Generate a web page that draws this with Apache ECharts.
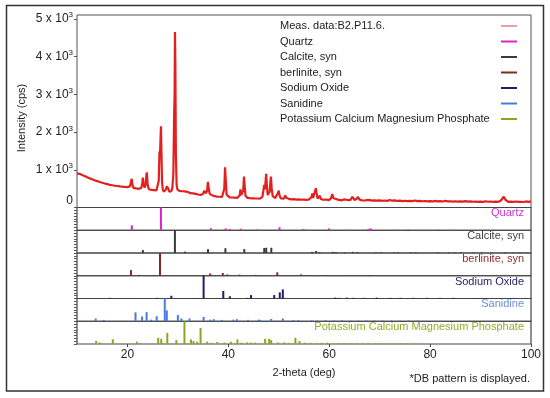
<!DOCTYPE html>
<html>
<head>
<meta charset="utf-8">
<script src="https://cdn.jsdelivr.net/npm/echarts@6.0.0/dist/echarts.min.js"></script>
<style>
html,body{margin:0;padding:0;background:#fff;}
#c{width:550px;height:398px;}
</style>
</head>
<body>
<div id="c"></div>
<script>
// ---------- DATA ----------
const measName = 'Meas. data:B2.P11.6.';
const phaseNames = ['Quartz', 'Calcite, syn', 'berlinite, syn', 'Sodium Oxide', 'Sanidine', 'Potassium Calcium Magnesium Phosphate'];
const xTicks = [20, 40, 60, 80, 100];
const yTicks = [0, 1000, 2000, 3000, 4000, 5000];
const yMax = 5100;

// measured pattern [2-theta, cps]
const measData = [
[10.0,905],[10.25,880],[10.5,892],[10.75,852],[11.0,862],[11.25,822],[11.5,832],[11.75,792],[12.0,802],[12.25,762],[12.5,772],[12.75,735],
[13.0,746],[13.25,710],[13.5,720],[13.75,690],[14.0,700],[14.25,665],[14.5,676],[14.75,645],[15.0,656],[15.25,625],[15.5,636],[15.75,606],
[16.0,620],[16.25,590],[16.5,601],[16.75,575],[17.0,590],[17.25,565],[17.5,576],[17.75,555],[18.0,570],[18.25,545],[18.5,560],[18.75,540],
[19.0,551],[19.25,530],[19.5,545],[19.75,525],[20.0,540],[20.25,520],[20.5,560],[20.7,680],[20.85,760],[21.0,600],[21.2,520],[21.5,526],
[21.75,505],[22.0,515],[22.25,495],[22.5,510],[22.75,520],[22.95,650],[23.05,790],[23.2,600],[23.4,530],[23.6,600],[23.75,850],[23.85,930],
[24.0,620],[24.2,490],[24.5,480],[24.75,465],[25.0,478],[25.25,460],[25.5,470],[25.75,455],[26.0,500],[26.2,700],[26.35,1480],[26.45,1350],
[26.55,1800],[26.65,2150],[26.75,1400],[26.85,700],[27.0,480],[27.2,420],[27.4,440],[27.6,470],[27.8,560],[27.95,600],[28.1,500],[28.3,420],
[28.5,405],[28.7,430],[28.9,520],[29.1,900],[29.25,2400],[29.35,3000],[29.42,4650],[29.5,3800],[29.6,1400],[29.75,600],[29.9,480],[30.1,450],
[30.3,440],[30.5,420],[30.75,430],[31.0,410],[31.2,430],[31.4,470],[31.6,420],[31.8,400],[32.0,410],[32.25,390],[32.5,380],[32.75,370],
[33.0,375],[33.25,355],[33.5,360],[33.75,340],[34.0,345],[34.25,330],[34.5,335],[34.75,320],[35.0,360],[35.2,440],[35.4,470],[35.6,380],
[35.8,450],[35.95,680],[36.1,520],[36.3,360],[36.5,400],[36.7,330],[37.0,310],[37.25,300],[37.5,305],[37.75,290],[38.0,295],[38.25,285],
[38.5,290],[38.75,280],[39.0,300],[39.2,500],[39.35,1065],[39.5,700],[39.65,340],[39.85,300],[40.0,290],[40.25,270],[40.5,280],[40.75,265],
[41.0,270],[41.25,260],[41.5,265],[41.75,255],[42.0,270],[42.25,320],[42.4,480],[42.55,330],[42.75,290],[42.95,450],[43.1,820],[43.25,560],
[43.4,310],[43.6,270],[43.8,255],[44.0,260],[44.25,248],[44.5,255],[44.75,243],[45.0,250],[45.25,240],[45.5,248],[45.75,238],[46.0,245],
[46.25,235],[46.5,240],[46.75,280],[46.95,450],[47.1,600],[47.25,480],[47.4,720],[47.5,890],[47.65,560],[47.8,330],[48.0,300],[48.2,420],
[48.35,700],[48.45,820],[48.6,500],[48.8,300],[49.0,260],[49.3,250],[49.6,280],[49.8,380],[50.0,445],[50.15,320],[50.4,240],[50.7,250],
[51.0,235],[51.3,320],[51.45,260],[51.7,225],[52.0,230],[52.5,215],[53.0,222],[53.5,210],[54.0,215],[54.5,205],[55.0,210],[55.5,200],
[56.0,215],[56.5,280],[56.65,370],[56.8,250],[57.1,290],[57.35,510],[57.5,380],[57.7,240],[58.0,260],[58.15,310],[58.3,230],[58.7,205],
[59.0,200],[59.5,208],[60.0,195],[60.4,260],[60.6,355],[60.8,250],[61.2,230],[61.45,280],[61.7,210],[62.0,200],[62.5,190],[63.0,215],
[63.2,250],[63.4,205],[63.8,195],[64.2,200],[64.6,285],[64.8,250],[65.0,200],[65.4,225],[65.7,280],[66.0,210],[66.5,190],[67.0,185],
[67.5,200],[67.8,240],[68.1,195],[68.5,182],[69.0,190],[69.5,180],[70.0,188],[70.5,178],[71.0,185],[71.5,175],[72.0,200],[72.5,180],
[73.0,190],[73.5,172],[74.0,180],[74.5,170],[75.0,178],[75.5,168],[76.0,176],[76.5,170],[77.0,185],[77.5,168],[78.0,175],[78.5,165],
[79.0,172],[79.5,162],[80.0,170],[80.5,160],[81.0,175],[81.5,162],[82.0,168],[82.5,158],[83.0,180],[83.5,162],[84.0,166],[84.5,157],
[85.0,165],[85.5,155],[86.0,163],[86.5,154],[87.0,170],[87.5,155],[88.0,160],[88.5,152],[89.0,158],[89.5,150],[90.0,157],[90.5,150],
[91.0,165],[91.5,152],[92.0,158],[92.5,148],[93.0,155],[93.5,150],[94.0,180],[94.3,230],[94.6,285],[94.9,210],[95.2,170],[95.5,150],
[96.0,157],[96.5,148],[97.0,160],[97.5,147],[98.0,152],[98.5,145],[99.0,160],[99.5,150],[100.0,160]
];

// reference patterns [2-theta, relative intensity %]
const quartzSticks = [[20.86,22],[26.64,100],[36.54,9],[39.47,8],[40.29,5],[42.45,7],[45.79,4],[50.14,13],[54.87,5],[55.33,2],[59.96,8],[64.04,2],[67.74,5],[68.14,8],[68.31,6],[73.47,2],[75.66,3],[77.65,2],[79.88,2],[81.49,3],[83.84,2],[90.83,2],[94.65,2]];
const calciteSticks = [[23.06,13],[29.41,100],[31.43,6],[35.97,17],[39.42,21],[43.16,17],[47.12,22],[47.51,23],[48.52,23],[56.57,5],[57.41,9],[58.09,3],[60.68,5],[61.0,3],[61.4,3],[63.08,3],[64.69,5],[65.62,4],[69.21,3],[70.25,3],[72.9,3],[73.7,3],[76.3,3],[77.17,3],[81.5,3],[83.77,3],[84.8,3],[86.1,3],[88.6,2],[90.2,2],[92.2,2],[94.9,3],[96.5,2],[97.8,2],[99.1,2]];
const berliniteSticks = [[20.7,25],[22.3,4],[26.45,100],[36.4,10],[38.9,12],[39.8,6],[42.2,5],[45.4,4],[49.7,15],[54.4,6],[55.9,3],[59.5,3],[64.5,3],[67.8,3],[68.4,3]];
const sodiumSticks = [[16.5,3],[20.1,2],[25.9,3],[28.7,12],[33.3,2],[35.1,100],[39.0,33],[40.3,10],[43.8,3],[44.5,15],[49.1,15],[50.2,27],[50.8,40],[61.2,4],[62.0,3],[63.5,4],[64.8,3],[66.8,3],[69.4,4],[72.1,3],[74.1,3],[76.7,3],[79.4,3],[82.0,3],[84.6,3],[89.2,2],[91.2,2],[93.9,2],[96.5,2],[99.1,2]];
const sanidineSticks = [[13.7,12],[15.3,6],[21.6,39],[22.9,21],[23.8,40],[24.7,7],[25.8,22],[27.4,100],[27.8,48],[30.0,27],[30.7,12],[32.3,12],[35.1,19],[36.4,7],[37.1,9],[38.7,6],[41.0,7],[41.7,9],[43.9,6],[46.0,7],[46.3,6],[48.5,10],[50.8,12],[52.9,5],[53.9,5],[56.5,4],[57.6,3],[59.3,4],[61.0,3],[62.5,4],[64.3,3],[65.8,3],[67.4,4],[69.0,3],[70.6,3],[72.3,3],[74.0,3],[75.8,3],[77.5,3],[79.3,2],[80.9,2]];
const potassiumSticks = [[13.8,14],[14.5,7],[17.1,21],[19.5,3],[21.9,10],[22.5,4],[26.1,27],[26.7,23],[27.9,49],[29.7,17],[31.3,100],[32.6,20],[33.1,13],[33.8,10],[34.5,70],[35.8,10],[36.6,5],[37.8,9],[39.2,6],[40.5,10],[41.8,20],[42.6,6],[43.7,7],[44.5,6],[45.3,6],[47.3,23],[48.1,23],[48.5,17],[49.8,7],[51.1,7],[52.0,5],[53.3,27],[54.1,13],[55.2,6],[56.3,5],[57.6,4],[58.5,5],[59.6,6],[60.8,4],[61.9,4],[63.0,4],[64.2,3],[65.5,4],[66.6,3],[67.7,5],[69.0,3],[70.2,3],[71.5,3],[72.8,3],[74.1,3],[75.3,3],[76.7,3],[78.2,3]];

// ---------- STYLE / LAYOUT ----------
const FONT = '"Liberation Sans", Arial, sans-serif';
const measColor = '#e3201e';
const measLegendColor = '#e8a0a0';
const phaseColors = ['#dd22d0', '#3a3a3a', '#8a2525', '#1e1e6a', '#4a7ae0', '#8aa81c'];
const phaseLabelColors = ['#d030d0', '#404040', '#8a3030', '#25256e', '#6a8ce0', '#8fae2a'];
const phaseData = [quartzSticks, calciteSticks, berliniteSticks, sodiumSticks, sanidineSticks, potassiumSticks];

const plotL = 77, plotR = 531;
const mainTop = 15, mainBottom = 207.5, panelsBottom = 344;
const panelH = (panelsBottom - mainBottom) / 6;

const grids = [], xAxes = [], yAxes = [], series = [];
grids.push({left: plotL, width: plotR - plotL, top: mainTop, height: mainBottom - mainTop,
  show: true, borderColor: '#555', borderWidth: 1, containLabel: false});
for (let i = 0; i < 6; i++) {
  grids.push({left: plotL, width: plotR - plotL, top: mainBottom + i * panelH, height: panelH,
    show: true, borderColor: '#444', borderWidth: 1.2, containLabel: false});
}
for (let g = 0; g < 7; g++) {
  const last = g === 6;
  xAxes.push({
    type: 'value', gridIndex: g, min: 10, max: 100,
    axisLine: {show: false},
    splitLine: {show: false},
    axisTick: last ? {show: true, length: 3, lineStyle: {color: '#444'}, customValues: xTicks} : {show: false},
    axisLabel: last ? {show: true, margin: 5, fontFamily: FONT, fontSize: 12, color: '#222', customValues: xTicks} : {show: false},
    name: last ? '2-theta (deg)' : '',
    nameLocation: 'middle', nameGap: 23,
    nameTextStyle: {fontFamily: FONT, fontSize: 11, color: '#222'}
  });
}
yAxes.push({
  type: 'value', gridIndex: 0, min: 0, max: yMax,
  axisLine: {show: false}, splitLine: {show: false},
  axisTick: {show: true, length: 3, lineStyle: {color: '#555'}, customValues: yTicks},
  axisLabel: {
    show: true, margin: 4, customValues: yTicks,
    formatter: function (v) {
      if (v === 0) return '{z|0}';
      return '{b|' + (v / 1000) + ' x 10}{s|3}';
    },
    rich: {
      b: {fontFamily: FONT, fontSize: 12, color: '#222'},
      s: {fontFamily: FONT, fontSize: 8, color: '#222', verticalAlign: 'top', padding: [0, 0, 7, 0]},
      z: {fontFamily: FONT, fontSize: 12, color: '#222', padding: [0, 0, 13, 0]}
    }
  }
});
for (let i = 0; i < 6; i++) {
  yAxes.push({
    type: 'value', gridIndex: i + 1, min: 0, max: 100, interval: 12.5,
    axisLine: {show: false}, splitLine: {show: false},
    axisTick: {show: true, length: 3, lineStyle: {color: '#555'}},
    axisLabel: {show: false}
  });
}

series.push({
  name: measName, type: 'line', xAxisIndex: 0, yAxisIndex: 0,
  data: measData, showSymbol: false, symbol: 'none',
  lineStyle: {color: measColor, width: 2.2},
  itemStyle: {color: measColor},
  clip: true, z: 3
});
phaseNames.forEach(function (n, i) {
  series.push({
    name: n, type: 'bar', xAxisIndex: i + 1, yAxisIndex: i + 1,
    data: phaseData[i], barWidth: 2, barGap: '-100%',
    itemStyle: {color: phaseColors[i]}, clip: true
  });
});

const legendData = [{name: measName, itemStyle: {color: measLegendColor}}]
  .concat(phaseNames.map(function (n) { return {name: n}; }));

const graphics = [
  {type: 'rect', shape: {x: 6.5, y: 5.5, width: 537, height: 385.5},
   style: {fill: 'none', stroke: '#333', lineWidth: 1.5}, silent: true, z: 100},
  {type: 'text', x: 22, y: 118, rotation: Math.PI / 2,
   style: {text: 'Intensity (cps)', font: '11px ' + FONT, fill: '#222', align: 'center', verticalAlign: 'middle'}},
  {type: 'text', x: 530, y: 379,
   style: {text: '*DB pattern is displayed.', font: '11px ' + FONT, fill: '#222', align: 'right', verticalAlign: 'middle'}}
];
const labelYs = [213.3, 236, 259.3, 281.5, 304.3, 327];
phaseNames.forEach(function (n, i) {
  graphics.push({type: 'text', x: 524, y: labelYs[i], z: 50,
    style: {text: n, font: '11px ' + FONT, fill: phaseLabelColors[i], align: 'right', verticalAlign: 'middle'}});
});

const option = {
  animation: false,
  backgroundColor: '#fff',
  grid: grids, xAxis: xAxes, yAxis: yAxes, series: series,
  legend: {
    orient: 'vertical', left: 280, top: 20.5, align: 'right', padding: 0, itemGap: 4.5,
    icon: 'rect', itemWidth: 16, itemHeight: 2, selectedMode: false,
    data: legendData,
    formatter: function (name) { return '{t|' + name + '}'; },
    textStyle: {
      fontFamily: FONT, fontSize: 11, color: '#222',
      rich: {t: {width: 216, align: 'left', fontFamily: FONT, fontSize: 11, color: '#222'}}
    }
  },
  graphic: graphics
};

const chart = echarts.init(document.getElementById('c'), null, {renderer: 'canvas'});
chart.setOption(option);
</script>
</body>
</html>
